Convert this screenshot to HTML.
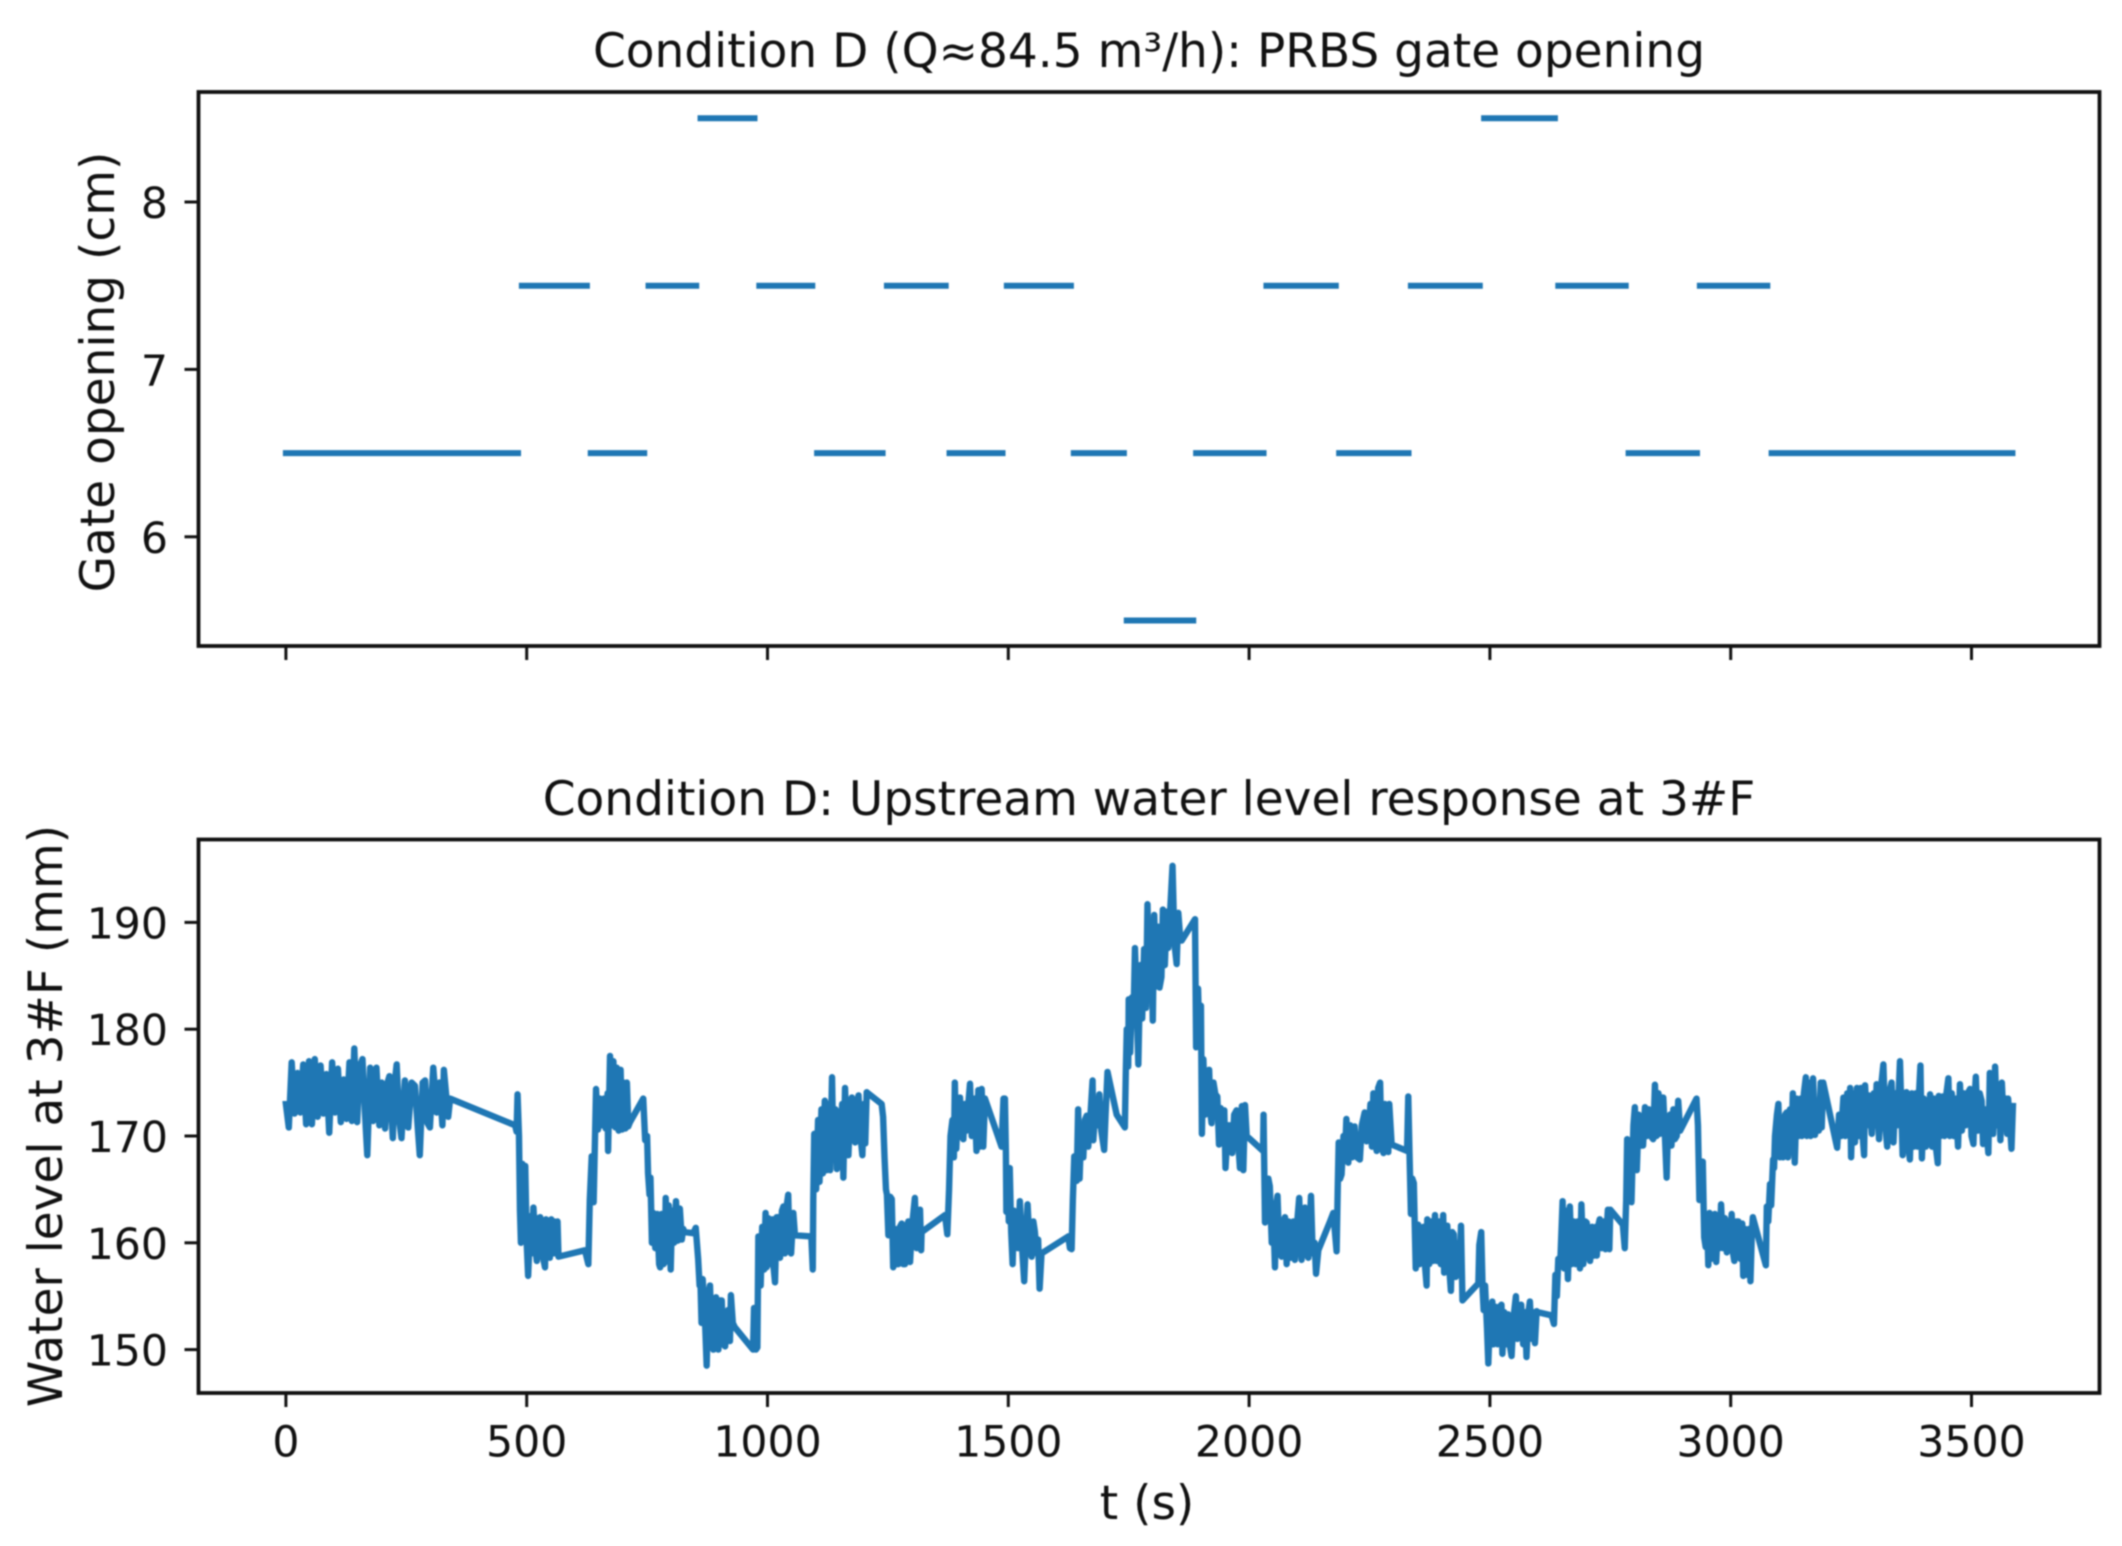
<!DOCTYPE html>
<html lang="en">
<head>
<meta charset="utf-8">
<title>Condition D PRBS gate opening and water level response</title>
<style>
  html, body { margin: 0; padding: 0; background: #fff; }
  body { width: 2122px; height: 1546px; overflow: hidden; }
  svg { display: block; filter: blur(0.7px); }
  text { font-family: "DejaVu Sans", "Liberation Sans", sans-serif; fill: #111; }
</style>
</head>
<body>
<svg id="chart" xmlns="http://www.w3.org/2000/svg" width="2122" height="1546" viewBox="0 0 2122 1546">
  <rect x="0" y="0" width="2122" height="1546" fill="#ffffff"/>
  <text text-anchor="middle" font-size="47" x="1149" y="67">Condition D (Q≈84.5 m³/h): PRBS gate opening</text>
  <text text-anchor="middle" font-size="47" x="1149" y="815">Condition D: Upstream water level response at 3#F</text>
  <text text-anchor="middle" font-size="47" transform="translate(114,372) rotate(-90)">Gate opening (cm)</text>
  <text text-anchor="middle" font-size="47" transform="translate(62,1116) rotate(-90)">Water level at 3#F (mm)</text>
  <text text-anchor="middle" font-size="47" x="1147" y="1519">t (s)</text>
  <g id="gate-axes"></g>
  <g id="level-axes"></g>
</svg>
<script>
const xTicks = [0, 500, 1000, 1500, 2000, 2500, 3000, 3500];
const gateTicks = [6, 7, 8];
const levelTicks = [150, 160, 170, 180, 190];

const gateLevels = [6.5,7.5,6.5,7.5,8.5,7.5,6.5,7.5,6.5,7.5,6.5,5.5,6.5,7.5,6.5,7.5,8.5,7.5,6.5,7.5,6.5];
const gateStarts = [0,490,633,753,861,983,1103,1248,1378,1497,1636,1746,1890,2036,2187,2336,2488,2642,2788,2936,3085];
const gateEnds = [482,625,744,852,973,1093,1239,1370,1488,1630,1740,1884,2030,2180,2331,2479,2635,2782,2930,3076,3585];

const levelSamples = [
[0,173],[6,170.8],[12,176.9],[18,172.1],[24,175.9],[30,172.2],[36,176.7],[42,171.1],[48,177],[54,171.1],[60,177.2],[66,171.8],
[72,176.6],[78,172.1],[84,175.8],[90,170.3],[96,176.9],[102,172.2],[108,176.3],[114,171.3],[120,175.3],[126,171.6],[132,176.9],[137,171.4],
[142,178.2],[148,171.3],[153,176.5],[159,177.2],[164,172.3],[169,168.2],[175,176.4],[181,171.4],[188,176.4],[194,171],[199,175],[206,170.7],
[211,175],[215,175.6],[222,169.8],[226,175],[230,176.7],[235,171.6],[240,169.8],[247,175.2],[254,170.8],[261,175],[268,174.7],[273,171.3],
[278,168.2],[284,175],[289,175.2],[294,171.2],[299,170.8],[306,176.4],[313,172.2],[319,175],[325,171],[328,176.2],[337,171.8],[341,173.5],
[476,171],[479,170.4],[481,173.9],[484,170],[486,163],[488,160],[491,167.4],[494,161],[497,167.2],[500,160],[503,156.9],[508,162.5],
[510,159],[514,163.3],[518,159.5],[521,158.3],[524,162.3],[528,162.4],[533,158.8],[538,157.7],[540,162.2],[544,159],[548,158.6],[551,162.2],
[555,159],[557,162],[561,159],[564,162],[566,158.7],[621,159.3],[628,158],[631,164],[635,168.1],[639,163.8],[644,174.4],[648,170.6],
[652,173.5],[656,171],[660,173.5],[664,170.7],[668,174],[669,168.6],[673,177.5],[677,171],[680,177],[684,170.8],[687,176.4],[691,170.5],
[695,176.2],[698,170.6],[701,175],[705,170.7],[708,175],[711,170.9],[714.5,171.3],[742,173.5],[746,169.6],[750,170],[752,166.5],[755,164.5],
[757,166.1],[760,160],[763,162.8],[767,159.5],[771,162.7],[775,158],[777,157.7],[780,162.7],[784,158],[787,158.2],[788.6,164.2],[791,160.8],
[795,163.5],[799,157.5],[802,163],[806,160],[810,163.9],[814,160.2],[818,163.2],[822,160.3],[825,161.3],[828,161],[846,160.9],[851,161.4],
[856,158.5],[859,156],[861,156],[863,152.5],[865.4,156.6],[870,153],[873.7,148.5],[877,155],[880.6,156],[884,151],[887.5,150],[890,154],
[893,154.9],[898,150],[901,154.6],[905,154.6],[908,150.5],[912,150.3],[915,152],[918,153.7],[922,150.8],[924,155.1],[928,152.5],[932,152.1],
[970,150],[972,153.9],[976,150],[979,150.2],[981,160.6],[985.8,156],[989,161.5],[993,157.5],[996,162.8],[998,157.7],[1002,162.3],[1006,158],
[1010,162.2],[1012,158],[1015.6,156.3],[1019,162.4],[1022,162.4],[1026,158.6],[1030,163],[1033,163.4],[1036,159],[1040,163.5],[1043,164.5],[1046,159.2],
[1049,159],[1053.6,162.8],[1057,160.7],[1091,160.6],[1094,157.5],[1095,164],[1097,170.2],[1101,165],[1105,171.5],[1108,165.7],[1112,172.5],[1115,166.5],
[1119,173.3],[1123,166.8],[1127,173],[1130,166.8],[1134,175.5],[1137,168],[1141,172.5],[1144,166.9],[1147,172.3],[1151,168],[1155,173],[1157.5,166.1],
[1161,174.5],[1165,169],[1168,168.2],[1172,173],[1175,173.6],[1179,170],[1182,169.4],[1186,173.2],[1189,173.8],[1193,170],[1197,168.2],[1200,173],
[1203,169.3],[1206,174.1],[1237,173],[1240,171.8],[1243,168],[1246,165],[1248,164.5],[1251,160.7],[1255,164.3],[1258,164.1],[1261,157.7],[1264.7,161.3],
[1268,158],[1271.7,158],[1275,161.5],[1278.6,161.8],[1282,158],[1285.5,158],[1289,161.5],[1292.4,162],[1296,158.2],[1300,161.5],[1306,164.2],[1309.7,159.5],
[1313,162.5],[1316.7,163.1],[1319,159.3],[1320,161],[1368.6,162.6],[1373.4,160.8],[1377,165],[1380,170],[1384,171.5],[1387,168],[1389,175],[1392,168.8],
[1396,173],[1399.7,173.6],[1403,170],[1406.6,169.7],[1410,173],[1413,170.5],[1417,173],[1420.5,174.9],[1424,170],[1427,172],[1430,173.5],[1434,168.6],
[1437.8,174.3],[1441,169],[1444.7,174.4],[1448,169],[1451.6,173.5],[1486,169],[1490,173.5],[1493,173.5],[1495,168.5],[1496,162.9],[1499,167],[1501,162],
[1503,167],[1506,161],[1509,158],[1512,163],[1516,160],[1520,159.5],[1524,163.9],[1528,160],[1533,156.4],[1537,161],[1540,163.6],[1544,160],
[1548.5,158.7],[1552,162],[1555,161.1],[1559,159],[1562,160.3],[1565,155.7],[1569,159],[1624.6,160.6],[1628,159.5],[1631.5,159.4],[1634,164],[1637,168.1],
[1640,166],[1642,165.8],[1645,172.5],[1648,166],[1651,170],[1655.8,168],[1659,171.5],[1662.7,171.9],[1666,169],[1670,171.5],[1675,175.2],[1676.5,169.6],
[1680,172],[1685,171],[1689,173.9],[1693,170.5],[1699,168.7],[1702,172],[1706,176],[1725,172],[1742,170.8],[1744,176],[1746,180],[1749,176.5],
[1750,182.8],[1753,177.8],[1757,183],[1760,181],[1763,187.6],[1767,182],[1770,176.7],[1774,186],[1778,181],[1782,187.5],[1786,182],[1789,191.7],
[1793,183],[1797,190],[1800,180.8],[1803,190.7],[1807,184],[1811,189.6],[1814,183.9],[1818,184.9],[1821,191.2],[1825,186],[1829,191],[1832,187.6],
[1836,191],[1841,195.3],[1845,188],[1849.6,186.1],[1853,190.9],[1857,188.5],[1860,188.3],[1887.7,190.3],[1890,178.3],[1894,183.8],[1897,178.5],[1900,182.2],
[1902,170.2],[1905,177.2],[1909,172],[1913,176],[1917,176.2],[1920,172],[1922,171.2],[1926,175],[1930,173.9],[1934,173.7],[1937.5,169.2],[1941,172.6],
[1945,172],[1948.5,172.4],[1951,167],[1956,171],[1960,171],[1965,168.4],[1969,172],[1974,172.4],[1978,169],[1981,167],[1985,172.8],[1988,166.8],
[1991.5,172.9],[1995,170],[2029,168.6],[2030,172],[2033,161.9],[2037,165],[2040,166],[2043,165.3],[2047,160],[2050,163],[2053.7,157.7],[2056,163.5],
[2059,164.4],[2063,159],[2067.6,158.7],[2071,162],[2074.5,162.4],[2078,158],[2082,162],[2086,158.6],[2091.8,162],[2095,158.4],[2100,162],[2104,164.2],
[2109,158.4],[2112,163],[2116,163.3],[2119,159],[2123,158.6],[2128.5,164.4],[2132,159],[2136,160],[2139,157.1],[2143.7,159.3],[2168,162],[2174.8,162.8],
[2181.7,159.2],[2184,165],[2186,169.4],[2189,166],[2192,166.4],[2196,170],[2199,168],[2202,171.6],[2206,167.5],[2210,171],[2214,168],[2219,170.9],
[2224,168],[2230,167.8],[2234,171],[2240,172.2],[2244,169.5],[2247,169.7],[2252,173],[2255,169],[2258,174],[2261,169.5],[2265,168.6],[2268,174.5],
[2272,175],[2275,169],[2279,168.4],[2282,173],[2285,169],[2289,168.5],[2291,173],[2296,169.2],[2328,168.6],[2330.5,173.7],[2333,168.5],[2336,162.7],
[2339,166],[2342,165.6],[2346,157.6],[2351,161.7],[2354,158],[2358,158.3],[2362,161.5],[2365,158],[2368.6,156],[2370,162.2],[2374,158],[2378,162],
[2382,158.3],[2386,162.6],[2390,158.3],[2394,162],[2398,158],[2403,162.6],[2405,157.2],[2408,161],[2411.5,161.6],[2415,158],[2419,155.5],[2422,161],
[2425,160.8],[2429,156.8],[2434,160],[2437,157],[2440,161.6],[2443,154.6],[2476,156.2],[2478,159.8],[2482,161],[2485,155.5],[2487,153.7],[2490,156],
[2494,152],[2496.7,148.7],[2500,153],[2503,150.5],[2505,154.5],[2508,150.5],[2512,154],[2516,150.5],[2520,154],[2524,154.2],[2526,149.6],[2530,153.5],
[2534,150.5],[2538,153.3],[2541,150.5],[2545,149.4],[2549,153],[2554,155],[2557,151],[2561,154],[2565,154.2],[2569,150.5],[2573,153.5],[2576,149.3],
[2580,153.5],[2583,154.5],[2587,151],[2590,153.5],[2593.5,150.6],[2597,153.6],[2600,153.5],[2628,153.2],[2633,152.4],[2636,157],[2639,155],[2642,158.5],
[2646,158],[2651,163.9],[2654,157.6],[2658,163],[2662,156.6],[2666,163.4],[2670,158],[2674,162],[2678,158],[2682,162],[2687,157.6],[2690,163.6],
[2694,158],[2698,162],[2701,161.9],[2705,159],[2708,158.3],[2712,161.5],[2716,158.8],[2720,161.5],[2722,158.8],[2726,161.8],[2728,162.2],[2732,159.5],
[2736,162],[2740,159.4],[2745,163.1],[2748,159.4],[2750,163.1],[2776,161.7],[2780,159.5],[2783,164],[2785,169.7],[2790,169],[2794,163.8],[2798,171],
[2801,172.7],[2805,166.8],[2809,172],[2813,169.1],[2818,169.1],[2822,172.7],[2826,170],[2830,172.5],[2834,170],[2839,169.7],[2842.7,174.8],[2846,170],
[2850,174],[2853,170.2],[2857,173.6],[2860,173.6],[2863,170.5],[2867,166.1],[2870,171],[2874,172],[2877,169.1],[2881,172.5],[2884,169.7],[2888,170],
[2891,173.3],[2895,170.5],[2929,173.5],[2932,171],[2935,164],[2938,167],[2942,167.6],[2945,160.5],[2948,159.6],[2951,162],[2953.5,157.9],[2956,162.8],
[2960,158.5],[2964,162.4],[2967,162.7],[2970,158.2],[2974,162.3],[2977,159.5],[2980,163.6],[2984,159.5],[2988,162.3],[2992,159.1],[2996,162],[2999,159.5],
[3002,162.7],[3005,159],[3007.5,158.3],[3012,162],[3016,162],[3020,158.5],[3024,161.8],[3026,156.9],[3030,161.3],[3034,157],[3038,161.3],[3041,156.4],
[3044,161],[3046,162.4],[3073,157.9],[3075,163.4],[3078,162],[3081.6,165.5],[3084,163.5],[3088,167.8],[3090,167],[3092,170],[3096,172],[3099,173],
[3102,168],[3106,171.5],[3109,168],[3113,172],[3116,172.2],[3119,168],[3123,172.5],[3126,168.5],[3129,174],[3133,167.5],[3137,173.5],[3141,170],
[3145,173.5],[3148,170],[3152,174],[3156,175.5],[3158,170],[3162,175],[3166,170],[3171,175.4],[3175,170.1],[3179,173],[3183,170.5],[3187,175],
[3189,170.8],[3192,175],[3221,168.9],[3225,172],[3229,170],[3234,173.6],[3238,170],[3242,174],[3246,170],[3248,174.5],[3250,168],[3254,174],
[3258,169.4],[3262,174.5],[3266,170],[3270,174.5],[3274,170],[3277,168.2],[3279,174.75],[3283,171],[3287,173.8],[3293,170.2],[3297,174],[3300,171],
[3303,174.85],[3308,169.7],[3312,174.5],[3317,176.7],[3321,171],[3325,169],[3329,174],[3334,175],[3338,169.4],[3342,174],[3346,171],[3351.5,177],
[3357,168.2],[3361,174],[3365,174.1],[3369,169],[3372,167.8],[3376,174],[3380,169],[3384,174],[3388,169],[3391,174],[3394,176.6],[3397,167.9],
[3401,173.5],[3405,169],[3410,170.2],[3414,173.9],[3418,169],[3422,173.5],[3426,169],[3430,167.45],[3432,173.75],[3436,170],[3440,173.7],[3444,170],
[3448,174],[3452,175.4],[3455,170],[3459,174],[3463,170],[3467,173.5],[3472,169],[3476,174.85],[3480,170.5],[3484,174],[3488,171],[3492,174],
[3497,174.4],[3500,170],[3504,169.25],[3507,174],[3509,175.55],[3513,170.5],[3517,174],[3521,173.3],[3524,169.25],[3528,172.5],[3531,170.5],[3535,168.4],
[3538,175.9],[3542,171],[3545,170.2],[3549,176.5],[3553,171],[3557,174],[3560,169.6],[3563,175],[3567,171],[3571,173.5],[3574,170.2],[3576,173.5],
[3580,171],[3583,168.8],[3586,172.8]
];

const SVG_NS = 'http://www.w3.org/2000/svg';
const BLUE = '#1f77b4';
const FRAME_LEFT = 198.5;
const FRAME_RIGHT = 2099.5;
const GATE_TOP = 92;
const GATE_BOTTOM = 646;
const LEVEL_TOP = 839.5;
const LEVEL_BOTTOM = 1393;

function xScale(t) { return 285.9 + t * 0.4816; }
function gateScale(v) { return 536.8 - (v - 6) * 167.4; }
function levelScale(v) { return 1349.6 - (v - 150) * 10.68; }

function make(tag, attrs, parent) {
  const el = document.createElementNS(SVG_NS, tag);
  Object.keys(attrs).forEach(function (k) { el.setAttribute(k, attrs[k]); });
  parent.appendChild(el);
  return el;
}

function drawFrame(parent, top, bottom) {
  const el = make('rect', { x: FRAME_LEFT, y: top, width: FRAME_RIGHT - FRAME_LEFT, height: bottom - top, fill: 'none', stroke: '#111', 'stroke-width': 3.8 }, parent);
  
  
}

function drawXTicks(parent, bottom, withLabels) {
  xTicks.forEach(function (t) {
    const x = xScale(t);
    const mark = make('line', { x1: x, x2: x, y1: bottom, y2: bottom + 14, stroke: '#111', 'stroke-width': 3 }, parent);
    
    
    if (withLabels) {
      const label = make('text', { 'text-anchor': 'middle', 'font-size': 42.6, x: x, y: 1456.5 }, parent);
      
      
      label.textContent = String(t);
    }
  });
}

function drawYTicks(parent, ticks, scale) {
  ticks.forEach(function (v) {
    const y = scale(v);
    const mark = make('line', { x1: FRAME_LEFT - 14, x2: FRAME_LEFT, y1: y, y2: y, stroke: '#111', 'stroke-width': 3 }, parent);
    
    
    const label = make('text', { 'text-anchor': 'end', 'font-size': 42.6, x: 168, y: y + 16 }, parent);
    
    
    label.textContent = String(v);
  });
}

const gateAxes = document.getElementById('gate-axes');
const levelAxes = document.getElementById('level-axes');

gateLevels.forEach(function (level, i) {
  const seg = make('line', { x1: xScale(gateStarts[i]), x2: xScale(gateEnds[i]), y1: gateScale(level), y2: gateScale(level), stroke: BLUE, 'stroke-width': 6, 'stroke-linecap': 'square' }, gateAxes);
  
  
});
drawFrame(gateAxes, GATE_TOP, GATE_BOTTOM);
drawXTicks(gateAxes, GATE_BOTTOM, false);
drawYTicks(gateAxes, gateTicks, gateScale);

const levelPath = levelSamples.map(function (s, i) {
  return (i ? 'L' : 'M') + xScale(s[0]).toFixed(2) + ' ' + levelScale(s[1]).toFixed(2);
}).join('');
const levelLine = make('path', { d: levelPath, fill: 'none', stroke: BLUE, 'stroke-width': 6.4, 'stroke-linejoin': 'round', 'stroke-linecap': 'square' }, levelAxes);


drawFrame(levelAxes, LEVEL_TOP, LEVEL_BOTTOM);
drawXTicks(levelAxes, LEVEL_BOTTOM, true);
drawYTicks(levelAxes, levelTicks, levelScale);
</script>
</body>
</html>
